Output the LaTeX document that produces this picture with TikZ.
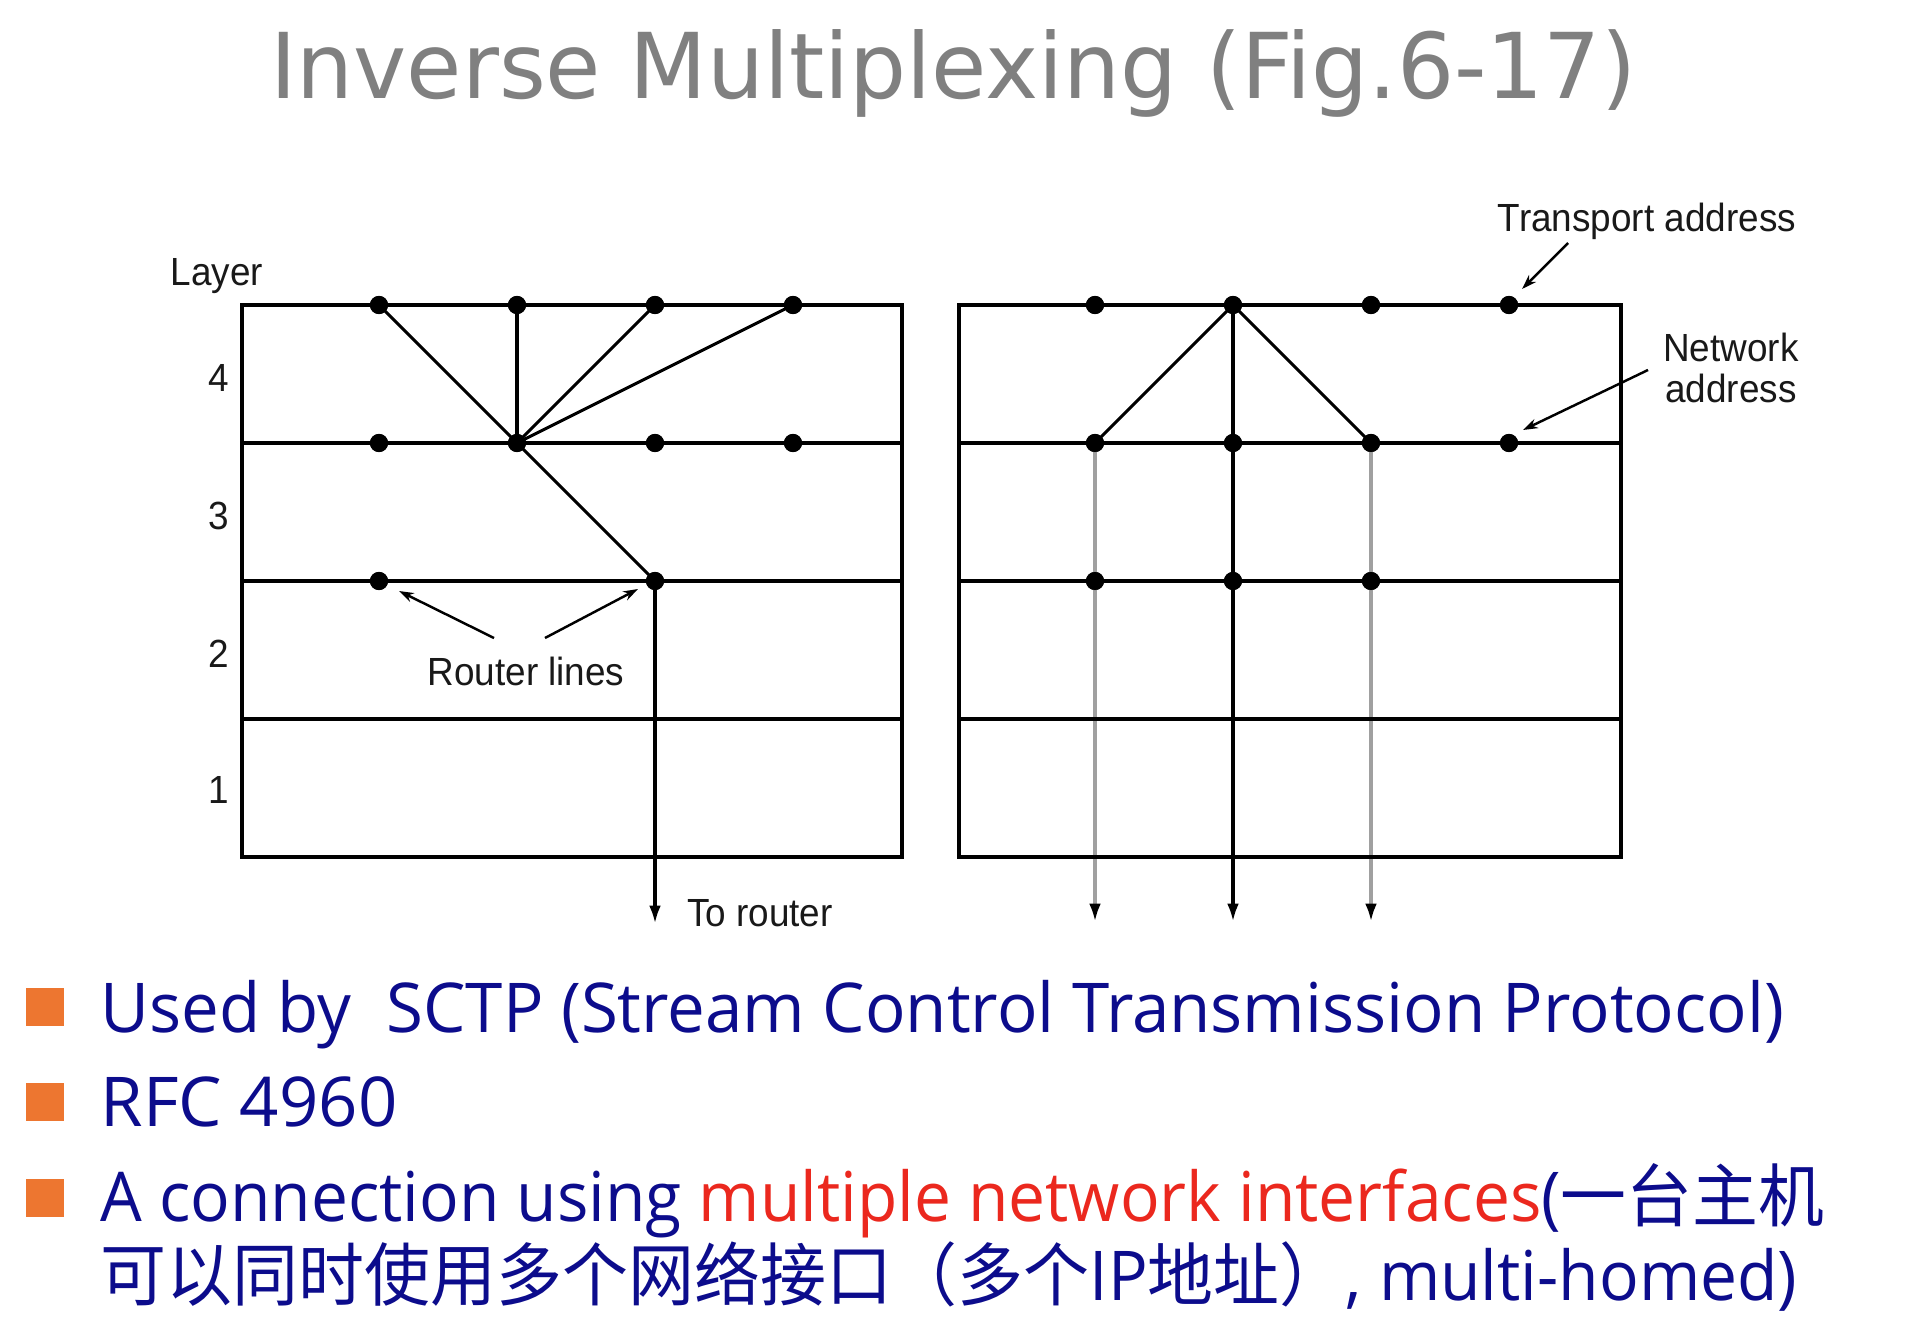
\documentclass[tikz,border=0pt]{standalone}
\usepackage{fontspec}
\usepackage{graphicx}
\usetikzlibrary{arrows.meta}
\setmainfont{Open Sans}
\newfontfamily\titlefont[FakeStretch=0.99]{DejaVu Sans}
\newfontfamily\figfont[FakeStretch=0.94]{Liberation Sans}
\newfontfamily\bodyfont{Open Sans}
\newfontfamily\cjk{Noto Sans CJK SC}
\definecolor{titlegray}{RGB}{128,128,128}
\definecolor{navy}{RGB}{12,12,140}
\definecolor{hotred}{RGB}{235,40,30}
\definecolor{bulletorange}{RGB}{237,118,48}
\definecolor{lightline}{RGB}{160,160,160}
\tikzset{
  dot/.style={circle,fill=black,inner sep=0pt,minimum size=7.4pt},
  frame/.style={line width=1.6pt,black},
  link/.style={line width=1.25pt,black},
  graylink/.style={line width=1.8pt,lightline},
  downarrow/.style={-{Latex[length=7.5pt,width=4.8pt]}},
  note/.style={line width=1pt,-{Stealth[length=6pt,width=4pt]}},
  figlabel/.style={font=\figfont\fontsize{16}{17}\selectfont,inner sep=0pt,text=black!90},
  bullet/.style={fill=bulletorange,inner sep=0pt,minimum size=15.6pt},
  bodyline/.style={anchor=base west,inner sep=0pt}
}
\begin{document}
\begin{tikzpicture}[x=0.4075pt,y=-0.4075pt]
\useasboundingbox (0,0) rectangle (1914,1342);
% title
\node[anchor=base,inner sep=0pt,text=titlegray,font=\titlefont\fontsize{37}{44}\selectfont] (title) at (953,99) {Inverse Multiplexing (Fig.6-17)};

% ---------- left stack ----------
\coordinate (LTL) at (242,305); \coordinate (LBR) at (902,857);
\foreach \y [count=\i] in {305,443,581,719,857} {
  \coordinate (Ll\i) at (242,\y); \coordinate (Lr\i) at (902,\y);
}
\node[dot] (a1) at (379,305) {}; \node[dot] (a2) at (517,305) {};
\node[dot] (a3) at (655,305) {}; \node[dot] (a4) at (793,305) {};
\node[dot] (b1) at (379,443) {}; \node[dot] (b2) at (517,443) {};
\node[dot] (b3) at (655,443) {}; \node[dot] (b4) at (793,443) {};
\node[dot] (c1) at (379,581) {}; \node[dot] (c2) at (655,581) {};
\coordinate (Lout) at (655,924);
\draw[frame] (LTL) rectangle (LBR);
\foreach \i in {2,3,4} \draw[frame] (Ll\i) -- (Lr\i);
\draw[link] (a1.center) -- (b2.center);
\draw[link] (a2.center) -- (b2.center);
\draw[link] (a3.center) -- (b2.center);
\draw[link] (a4.center) -- (b2.center);
\draw[link] (b2.center) -- (c2.center);
\draw[frame,downarrow] (c2.center) -- (Lout);

% labels left
\node[figlabel] (layer) at (217,276) {Layer};
\node[figlabel] (n4) at (219,378) {4};
\node[figlabel] (n3) at (219,516) {3};
\node[figlabel] (n2) at (219,654) {2};
\node[figlabel] (n1) at (219,790) {1};
\node[figlabel] (rl) at (526,671) {Router lines};
\node[figlabel] (tor) at (760,913) {To router};
\coordinate (rlA) at (494,638); \coordinate (rlB) at (545,638);
\coordinate (c1t) at (399,591); \coordinate (c2t) at (638,589);
\draw[note] (rlA) -- (c1t);
\draw[note] (rlB) -- (c2t);

% ---------- right stack ----------
\coordinate (RTL) at (959,305); \coordinate (RBR) at (1621,857);
\foreach \y [count=\i] in {305,443,581,719,857} {
  \coordinate (Rl\i) at (959,\y); \coordinate (Rr\i) at (1621,\y);
}
\node[dot] (d1) at (1095,305) {}; \node[dot] (d2) at (1233,305) {};
\node[dot] (d3) at (1371,305) {}; \node[dot] (d4) at (1509,305) {};
\node[dot] (e1) at (1095,443) {}; \node[dot] (e2) at (1233,443) {};
\node[dot] (e3) at (1371,443) {}; \node[dot] (e4) at (1509,443) {};
\node[dot] (f1) at (1095,581) {}; \node[dot] (f2) at (1233,581) {};
\node[dot] (f3) at (1371,581) {};
\coordinate (Rout1) at (1095,922); \coordinate (Rout2) at (1233,922); \coordinate (Rout3) at (1371,922);
\draw[graylink,-{Latex[length=7.5pt,width=4.8pt,color=black]}] (e1.center) -- (Rout1);
\draw[graylink,-{Latex[length=7.5pt,width=4.8pt,color=black]}] (e3.center) -- (Rout3);
\draw[frame] (RTL) rectangle (RBR);
\foreach \i in {2,3,4} \draw[frame] (Rl\i) -- (Rr\i);
\draw[link] (d2.center) -- (e1.center);
\draw[link] (d2.center) -- (e3.center);
\draw[frame,downarrow] (d2.center) -- (Rout2);
% dots on top of the lines
\foreach \n in {d1,d2,d3,d4,e1,e2,e3,e4,f1,f2,f3} \fill (\n) circle (3.7pt);
\foreach \n in {a1,a2,a3,a4,b1,b2,b3,b4,c1,c2} \fill (\n) circle (3.7pt);

\node[figlabel] (ta) at (1647,221) {Transport address};
\node[figlabel,align=center] (na) at (1731,368) {Network\\address};
\coordinate (taA) at (1568,243); \coordinate (d4t) at (1522,289);
\coordinate (naA) at (1648,370); \coordinate (e4t) at (1523,430);
\draw[note] (taA) -- (d4t);
\draw[note] (naA) -- (e4t);

% ---------- bullets ----------
\node[bullet] (sq1) at (45,1007) {};
\node[bullet] (sq2) at (45,1102) {};
\node[bullet] (sq3) at (45,1198) {};
\node[bodyline] (t1) at (100,1032) {\resizebox{686pt}{\height}{\bodyfont\fontsize{28}{34}\selectfont\color{navy}Used by\ \ SCTP (Stream Control Transmission Protocol)}};
\node[bodyline] (t2) at (100,1126) {\resizebox{121pt}{\height}{\bodyfont\fontsize{28}{34}\selectfont\color{navy}RFC 4960}};
\node[bodyline] (t3) at (100,1221) {\resizebox{702.5pt}{\height}{\bodyfont\fontsize{28}{34}\selectfont{\color{navy}A connection using }{\color{hotred}multiple network interfaces}{\color{navy}({\cjk 一台主机}}}};
\node[bodyline] (t4) at (100,1300) {\resizebox{691.5pt}{\height}{\bodyfont\fontsize{28}{34}\selectfont\color{navy}{\cjk 可以同时使用多个网络接口（多个}IP{\cjk 地址）}, multi-homed)}};
\end{tikzpicture}
\end{document}
